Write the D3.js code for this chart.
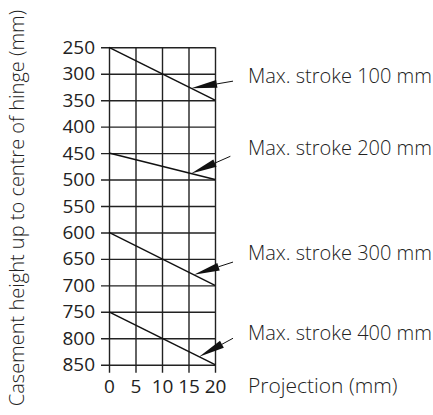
<!DOCTYPE html>
<html>
<head>
<meta charset="utf-8">
<script src="https://cdn.jsdelivr.net/npm/d3@7"></script>
<style>
  body { margin: 0; background: #fff; }
  svg text { font-family: "Open Sans", "Noto Sans", sans-serif; font-weight: 300; fill: #222; }
</style>
</head>
<body>
<div id="chart"></div>
<script>
// projection (mm) ticks and casement height (mm) ticks
const xTicks = [0, 5, 10, 15, 20]
const yTicks = [250, 300, 350, 400, 450, 500, 550, 600, 650, 700, 750, 800, 850]

// one line per max. stroke: casement height at projection 0 and at projection 20
const strokes = ['Max. stroke 100 mm', 'Max. stroke 200 mm', 'Max. stroke 300 mm', 'Max. stroke 400 mm']
const heightAt0 = [250, 450, 600, 750]
const heightAt20 = [350, 500, 700, 850]

// pointer arrows: tip projection on the line, tail position, label height
const tipProjection = [15.5, 15.5, 16, 17]
const tailProjection = [23.4, 22.9, 23.4, 23.4]
const tailHeight = [314, 456, 656, 800]
const labelHeight = [304, 441, 639, 790]

const width = 433
const height = 415

const svg = d3.select('#chart').append('svg')
  .attr('width', width)
  .attr('height', height)

const x = d3.scaleLinear().domain([0, 20]).range([109, 215])
const y = d3.scaleLinear().domain([250, 850]).range([47.3, 364.7])

const tick = 8

// horizontal grid lines (with ticks sticking out to the left)
const yAxis = svg.append('g')
  .attr('transform', `translate(${x(0) - tick},0)`)
  .call(d3.axisLeft(y)
    .tickValues(yTicks)
    .tickSize(-(x(20) - x(0) + tick))
    .tickPadding(6)
    .tickFormat(d3.format('d')))

// vertical grid lines (with ticks sticking out below)
const xAxis = svg.append('g')
  .attr('transform', `translate(0,${y(850) + tick})`)
  .call(d3.axisBottom(x)
    .tickValues(xTicks)
    .tickSize(-(y(850) - y(250) + tick))
    .tickPadding(7)
    .tickFormat(d3.format('d')))

;[xAxis, yAxis].forEach(a => {
  a.select('.domain').remove()
  a.selectAll('line').attr('stroke', '#222').attr('stroke-width', 1.4)
  a.selectAll('text').attr('font-size', 19).attr('fill', '#111')
    .style('font-family', '"Open Sans", "Noto Sans", sans-serif')
    .style('font-weight', 400)
})

// stroke lines
const rows = strokes.map((s, i) => ({
  label: s,
  h0: heightAt0[i],
  h20: heightAt20[i],
  tx: tipProjection[i],
  ax: tailProjection[i],
  ay: tailHeight[i],
  ly: labelHeight[i]
}))

svg.append('g').selectAll('line')
  .data(rows)
  .enter().append('line')
  .attr('x1', x(0))
  .attr('y1', d => y(d.h0))
  .attr('x2', x(20))
  .attr('y2', d => y(d.h20))
  .attr('stroke', '#111')
  .attr('stroke-width', 1.5)

// arrows
const arrows = svg.append('g')
rows.forEach(d => {
  const tipY = d.h0 + (d.h20 - d.h0) * d.tx / 20
  const px = x(d.tx)
  const py = y(tipY)
  const qx = x(d.ax)
  const qy = y(d.ay)
  const len = Math.hypot(qx - px, qy - py)
  const ux = (qx - px) / len
  const uy = (qy - py) / len
  const head = 26
  const half = 4
  const bx = px + ux * head
  const by = py + uy * head
  arrows.append('line')
    .attr('x1', bx).attr('y1', by)
    .attr('x2', qx).attr('y2', qy)
    .attr('stroke', '#111')
    .attr('stroke-width', 1)
  arrows.append('path')
    .attr('d', `M${px},${py}L${bx - uy * half},${by + ux * half}L${bx + uy * half},${by - ux * half}Z`)
    .attr('fill', '#111')
})

// labels
svg.append('g').selectAll('text')
  .data(rows)
  .enter().append('text')
  .attr('x', 248)
  .attr('y', d => y(d.ly))
  .attr('dy', '0.35em')
  .attr('font-size', 20)
  .text(d => d.label)

svg.append('text')
  .attr('x', 248)
  .attr('y', 386)
  .attr('dy', '0.35em')
  .attr('font-size', 21)
  .text('Projection (mm)')

// y title: shrink to fit the full height
const title = svg.append('text')
  .attr('transform', `translate(24,208) rotate(-90)`)
  .attr('text-anchor', 'middle')
  .attr('font-size', 20)
  .text('Casement height up to centre of hinge (mm)')
const tl = title.node().getComputedTextLength()
if (tl > 408) title.attr('font-size', 20 * 408 / tl)
</script>
</body>
</html>
